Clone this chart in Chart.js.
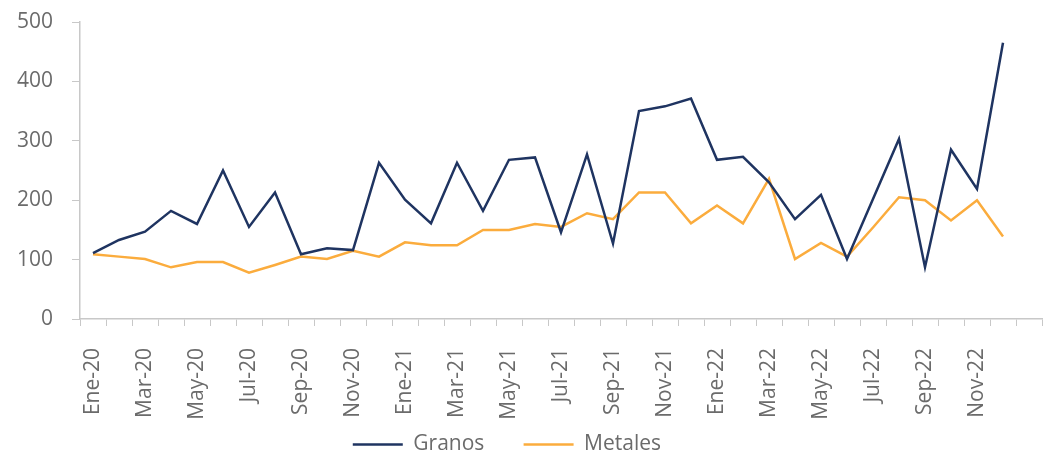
<!DOCTYPE html>
<html lang="es">
<head>
    <meta charset="UTF-8">
    <title>Granos y Metales</title>
    <script src="https://cdn.jsdelivr.net/npm/chart.js"></script>
    <style>
        body { margin: 0; background: #fff; }
        #caja { position: relative; width: 1059px; height: 460px; }
    </style>
</head>
<body>
    <div id="caja">
        <canvas id="grafico"></canvas>
    </div>

    <script>
        // Meses (el ultimo vacio deja espacio al final del eje)
        const meses = [
            'Ene-20', 'Feb-20', 'Mar-20', 'Abr-20', 'May-20', 'Jun-20', 'Jul-20', 'Ago-20', 'Sep-20', 'Oct-20', 'Nov-20', 'Dic-20',
            'Ene-21', 'Feb-21', 'Mar-21', 'Abr-21', 'May-21', 'Jun-21', 'Jul-21', 'Ago-21', 'Sep-21', 'Oct-21', 'Nov-21', 'Dic-21',
            'Ene-22', 'Feb-22', 'Mar-22', 'Abr-22', 'May-22', 'Jun-22', 'Jul-22', 'Ago-22', 'Sep-22', 'Oct-22', 'Nov-22', 'Dic-22',
            ''
        ];

        const granos = [
            111, 133, 147, 182, 160, 250, 155, 213, 109, 119, 116, 263,
            201, 161, 263, 182, 268, 272, 146, 277, 127, 350, 358, 371,
            268, 273, 230, 168, 209, 101, 202, 303, 87, 285, 219, 465
        ];

        const metales = [
            109, 105, 101, 87, 96, 96, 78, 91, 105, 101, 115, 105,
            129, 124, 124, 150, 150, 160, 155, 178, 168, 213, 213, 161,
            191, 161, 236, 101, 128, 105, 154, 205, 200, 166, 200, 139
        ];

        const ticksY = [0, 100, 200, 300, 400, 500];

        const gris = '#6b6b6b';
        const lineaEje = '#c8c8c8';
        const fuente = "'Open Sans', sans-serif";

        // espacios al final de cada leyenda para separarlas como en el original
        const colaLeyenda = ['\u00a0'.repeat(5), '\u00a0'.repeat(7)];

        const config = {
            type: 'line',
            data: {
                labels: meses,
                datasets: [
                    {
                        label: 'Granos',
                        data: granos,
                        borderColor: '#1f3461',
                        backgroundColor: '#1f3461',
                        borderWidth: 2.5,
                        pointRadius: 0,
                        tension: 0
                    },
                    {
                        label: 'Metales',
                        data: metales,
                        borderColor: '#fbac3d',
                        backgroundColor: '#fbac3d',
                        borderWidth: 2.5,
                        pointRadius: 0,
                        tension: 0
                    }
                ]
            },
            options: {
                responsive: true,
                maintainAspectRatio: false,
                animation: false,
                layout: {
                    padding: { left: 10, right: 17, top: 0, bottom: -5 }
                },
                plugins: {
                    tooltip: { enabled: false },
                    legend: {
                        position: 'bottom',
                        labels: {
                            color: gris,
                            font: { family: fuente, size: 21 },
                            usePointStyle: true,
                            pointStyle: 'line',
                            pointStyleWidth: 50,
                            padding: 12,
                            generateLabels: function (chart) {
                                const items = Chart.defaults.plugins.legend.labels.generateLabels(chart);
                                items.forEach((it, i) => { it.text = it.text + colaLeyenda[i]; });
                                return items;
                            }
                        }
                    }
                },
                scales: {
                    x: {
                        offset: true,
                        afterFit: function (escala) {
                            // sin margen extra a los lados por las etiquetas giradas
                            escala.paddingLeft = 0;
                            escala.paddingRight = 0;
                            escala.height = 103;
                        },
                        grid: {
                            offset: true,
                            drawOnChartArea: false,
                            tickLength: 7,
                            color: lineaEje
                        },
                        border: { color: lineaEje, width: 1.5 },
                        ticks: {
                            autoSkip: false,
                            maxRotation: 90,
                            minRotation: 90,
                            padding: 22,
                            color: gris,
                            font: { family: fuente, size: 21 },
                            callback: function (valor, indice) {
                                return indice % 2 === 0 ? meses[indice] : '';
                            }
                        }
                    },
                    y: {
                        min: 0,
                        max: 500,
                        afterBuildTicks: function (escala) {
                            escala.ticks = ticksY.map(v => ({ value: v }));
                        },
                        afterFit: function (escala) {
                            escala.width = 70;
                            escala.paddingTop = 22;
                            escala.paddingBottom = 12;
                        },
                        grid: {
                            drawOnChartArea: false,
                            tickLength: 8,
                            color: lineaEje
                        },
                        border: { color: lineaEje, width: 1.5 },
                        ticks: {
                            color: gris,
                            padding: 19,
                            font: { family: fuente, size: 21 }
                        }
                    }
                }
            }
        };

        new Chart(document.getElementById('grafico'), config);
    </script>
</body>
</html>
